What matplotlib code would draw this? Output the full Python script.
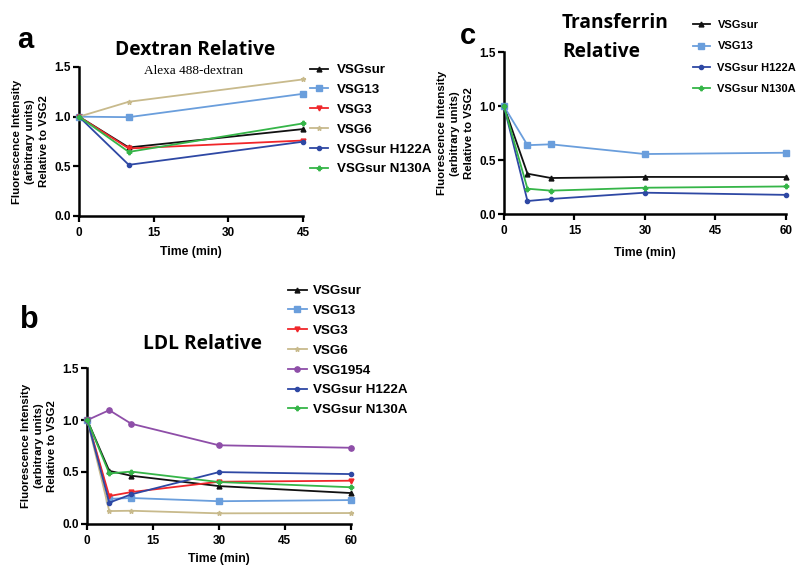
import matplotlib
matplotlib.use("Agg")
import matplotlib.pyplot as plt

plt.rcParams['font.family'] = ['Liberation Sans', 'DejaVu Sans']

# ---------------- data ----------------
# Panel a: Dextran
dex_time = [0, 10, 45]
dex_series = ["VSGsur", "VSG13", "VSG3", "VSG6", "VSGsur H122A", "VSGsur N130A"]
dex_vsgsur = [1.0, 0.69, 0.875]
dex_vsg13 = [1.0, 0.995, 1.23]
dex_vsg3 = [1.0, 0.68, 0.76]
dex_vsg6 = [1.0, 1.15, 1.375]
dex_h122a = [1.0, 0.515, 0.748]
dex_n130a = [1.0, 0.645, 0.932]

# Panel b: LDL
ldl_time = [0, 5, 10, 30, 60]
ldl_series = ["VSGsur", "VSG13", "VSG3", "VSG6", "VSG1954", "VSGsur H122A", "VSGsur N130A"]
ldl_vsgsur = [1.0, 0.51, 0.463, 0.363, 0.296]
ldl_vsg13 = [1.0, 0.24, 0.248, 0.217, 0.228]
ldl_vsg3 = [1.0, 0.267, 0.305, 0.405, 0.415]
ldl_vsg6 = [1.0, 0.122, 0.125, 0.1, 0.103]
ldl_vsg1954 = [1.0, 1.096, 0.965, 0.757, 0.733]
ldl_h122a = [1.0, 0.203, 0.283, 0.498, 0.479]
ldl_n130a = [1.0, 0.485, 0.503, 0.402, 0.352]

# Panel c: Transferrin
tf_time = [0, 5, 10, 30, 60]
tf_series = ["VSGsur", "VSG13", "VSGsur H122A", "VSGsur N130A"]
tf_vsgsur = [1.0, 0.376, 0.336, 0.346, 0.345]
tf_vsg13 = [1.0, 0.64, 0.648, 0.558, 0.57]
tf_h122a = [1.0, 0.123, 0.142, 0.2, 0.18]
tf_n130a = [1.0, 0.237, 0.219, 0.246, 0.258]

y_ticks = [0.0, 0.5, 1.0, 1.5]
y_ticklabels = ["0.0", "0.5", "1.0", "1.5"]

# ---------------- styles ----------------
STYLE = {
    "VSGsur": dict(color="#111111", marker="^", ms=3.5),
    "VSG13": dict(color="#6A9EDC", marker="s", ms=3.8),
    "VSG3": dict(color="#F0262A", marker="v", ms=3.5),
    "VSG6": dict(color="#C8BA8C", marker="*", ms=3.5),
    "VSG1954": dict(color="#8E4EA8", marker="o", ms=3.8),
    "VSGsur H122A": dict(color="#2E48A4", marker="o", ms=3.0),
    "VSGsur N130A": dict(color="#35B548", marker="P", ms=3.2),
}

FONT_TICK = 8.5
FONT_LAB = 8.2
TITLE_FONT = ['Open Sans', 'DejaVu Sans']
TITLE_SIZE = 13.8

fig = plt.figure(figsize=(8.0, 5.75), dpi=100)


def style_axes(ax, xmax, xticks, xlabelpad):
    ax.set_xlim(0, xmax)
    ax.set_ylim(0, 1.5)
    ax.set_xticks(xticks)
    ax.set_xticklabels([str(t) for t in xticks])
    ax.set_yticks(y_ticks)
    ax.set_yticklabels(y_ticklabels)
    for s in ["top", "right"]:
        ax.spines[s].set_visible(False)
    for s in ["left", "bottom"]:
        ax.spines[s].set_linewidth(1.8)
    ax.tick_params(width=1.6, length=4, direction="out", labelsize=FONT_TICK)
    ax.tick_params(axis="x", pad=4)
    ax.tick_params(axis="y", pad=2)
    for lab in ax.get_xticklabels() + ax.get_yticklabels():
        lab.set_fontweight("bold")
    ax.set_xlabel("Time (min)", fontsize=8.8, fontweight="bold", labelpad=xlabelpad)
    ax.set_ylabel("Fluorescence Intensity\n(arbitrary units)\nRelative to VSG2",
                  fontsize=FONT_LAB, fontweight="bold", labelpad=4, linespacing=1.4)


def plot_series(ax, t, names, values):
    handles = []
    for name, vals in zip(names, values):
        st = STYLE[name]
        h, = ax.plot(t, vals, color=st["color"], marker=st["marker"], ms=st["ms"],
                     lw=1.3, clip_on=False, zorder=3, label=name)
        handles.append(h)
    return handles


def add_legend(ax, handles, x_px, y_px, size, spacing, hlen, hpad):
    leg = ax.legend(handles=handles, loc="upper left", frameon=False,
                    bbox_to_anchor=(x_px / 800, 1 - y_px / 575),
                    bbox_transform=fig.transFigure,
                    prop=dict(weight="bold", size=size),
                    handlelength=hlen, handletextpad=hpad, labelspacing=spacing,
                    borderaxespad=0, borderpad=0)
    return leg


# ---------- panel a ----------
ax_a = fig.add_axes([79 / 800, 1 - 216 / 575, 224 / 800, 149 / 575])
h = plot_series(ax_a, dex_time, dex_series,
                [dex_vsgsur, dex_vsg13, dex_vsg3, dex_vsg6, dex_h122a, dex_n130a])
style_axes(ax_a, 45, [0, 15, 30, 45], 5)
add_legend(ax_a, h, 310, 64, 9.6, 0.56, 1.35, 0.65)
fig.text(195 / 800, 1 - 50 / 575, "Dextran Relative", ha="center", va="center",
         fontsize=TITLE_SIZE, fontweight="bold", family=TITLE_FONT)
fig.text(194 / 800, 1 - 71 / 575, "Alexa 488-dextran", ha="center", va="center",
         fontsize=9.5, family=['Liberation Serif', 'DejaVu Serif'])
fig.text(25 / 800, 1 - 40 / 575, "a", ha="center", va="center", fontsize=21,
         fontweight="bold")

# ---------- panel b ----------
ax_b = fig.add_axes([87.3 / 800, 1 - 523.7 / 575, 263.4 / 800, 155.4 / 575])
h = plot_series(ax_b, ldl_time, ldl_series,
                [ldl_vsgsur, ldl_vsg13, ldl_vsg3, ldl_vsg6, ldl_vsg1954, ldl_h122a, ldl_n130a])
style_axes(ax_b, 60, [0, 15, 30, 45, 60], 4.5)
add_legend(ax_b, h, 288, 285, 9.6, 0.56, 1.4, 0.45)
fig.text(203 / 800, 1 - 344 / 575, "LDL Relative", ha="center", va="center",
         fontsize=TITLE_SIZE, fontweight="bold", family=TITLE_FONT)
fig.text(29 / 800, 1 - 320 / 575, "b", ha="center", va="center", fontsize=22,
         fontweight="bold")

# ---------- panel c ----------
ax_c = fig.add_axes([504 / 800, 1 - 214.3 / 575, 281.7 / 800, 162 / 575])
h = plot_series(ax_c, tf_time, tf_series, [tf_vsgsur, tf_vsg13, tf_h122a, tf_n130a])
style_axes(ax_c, 60, [0, 15, 30, 45, 60], 7)
add_legend(ax_c, h, 693, 20, 8.0, 1.03, 1.5, 0.7)
fig.text(562 / 800, 1 - 23 / 575, "Transferrin", ha="left", va="center",
         fontsize=TITLE_SIZE, fontweight="bold", family=TITLE_FONT)
fig.text(562 / 800, 1 - 52 / 575, "Relative", ha="left", va="center",
         fontsize=TITLE_SIZE, fontweight="bold", family=TITLE_FONT)
fig.text(468 / 800, 1 - 36 / 575, "c", ha="center", va="center", fontsize=21,
         fontweight="bold")

fig.savefig("out.png", dpi=100)
